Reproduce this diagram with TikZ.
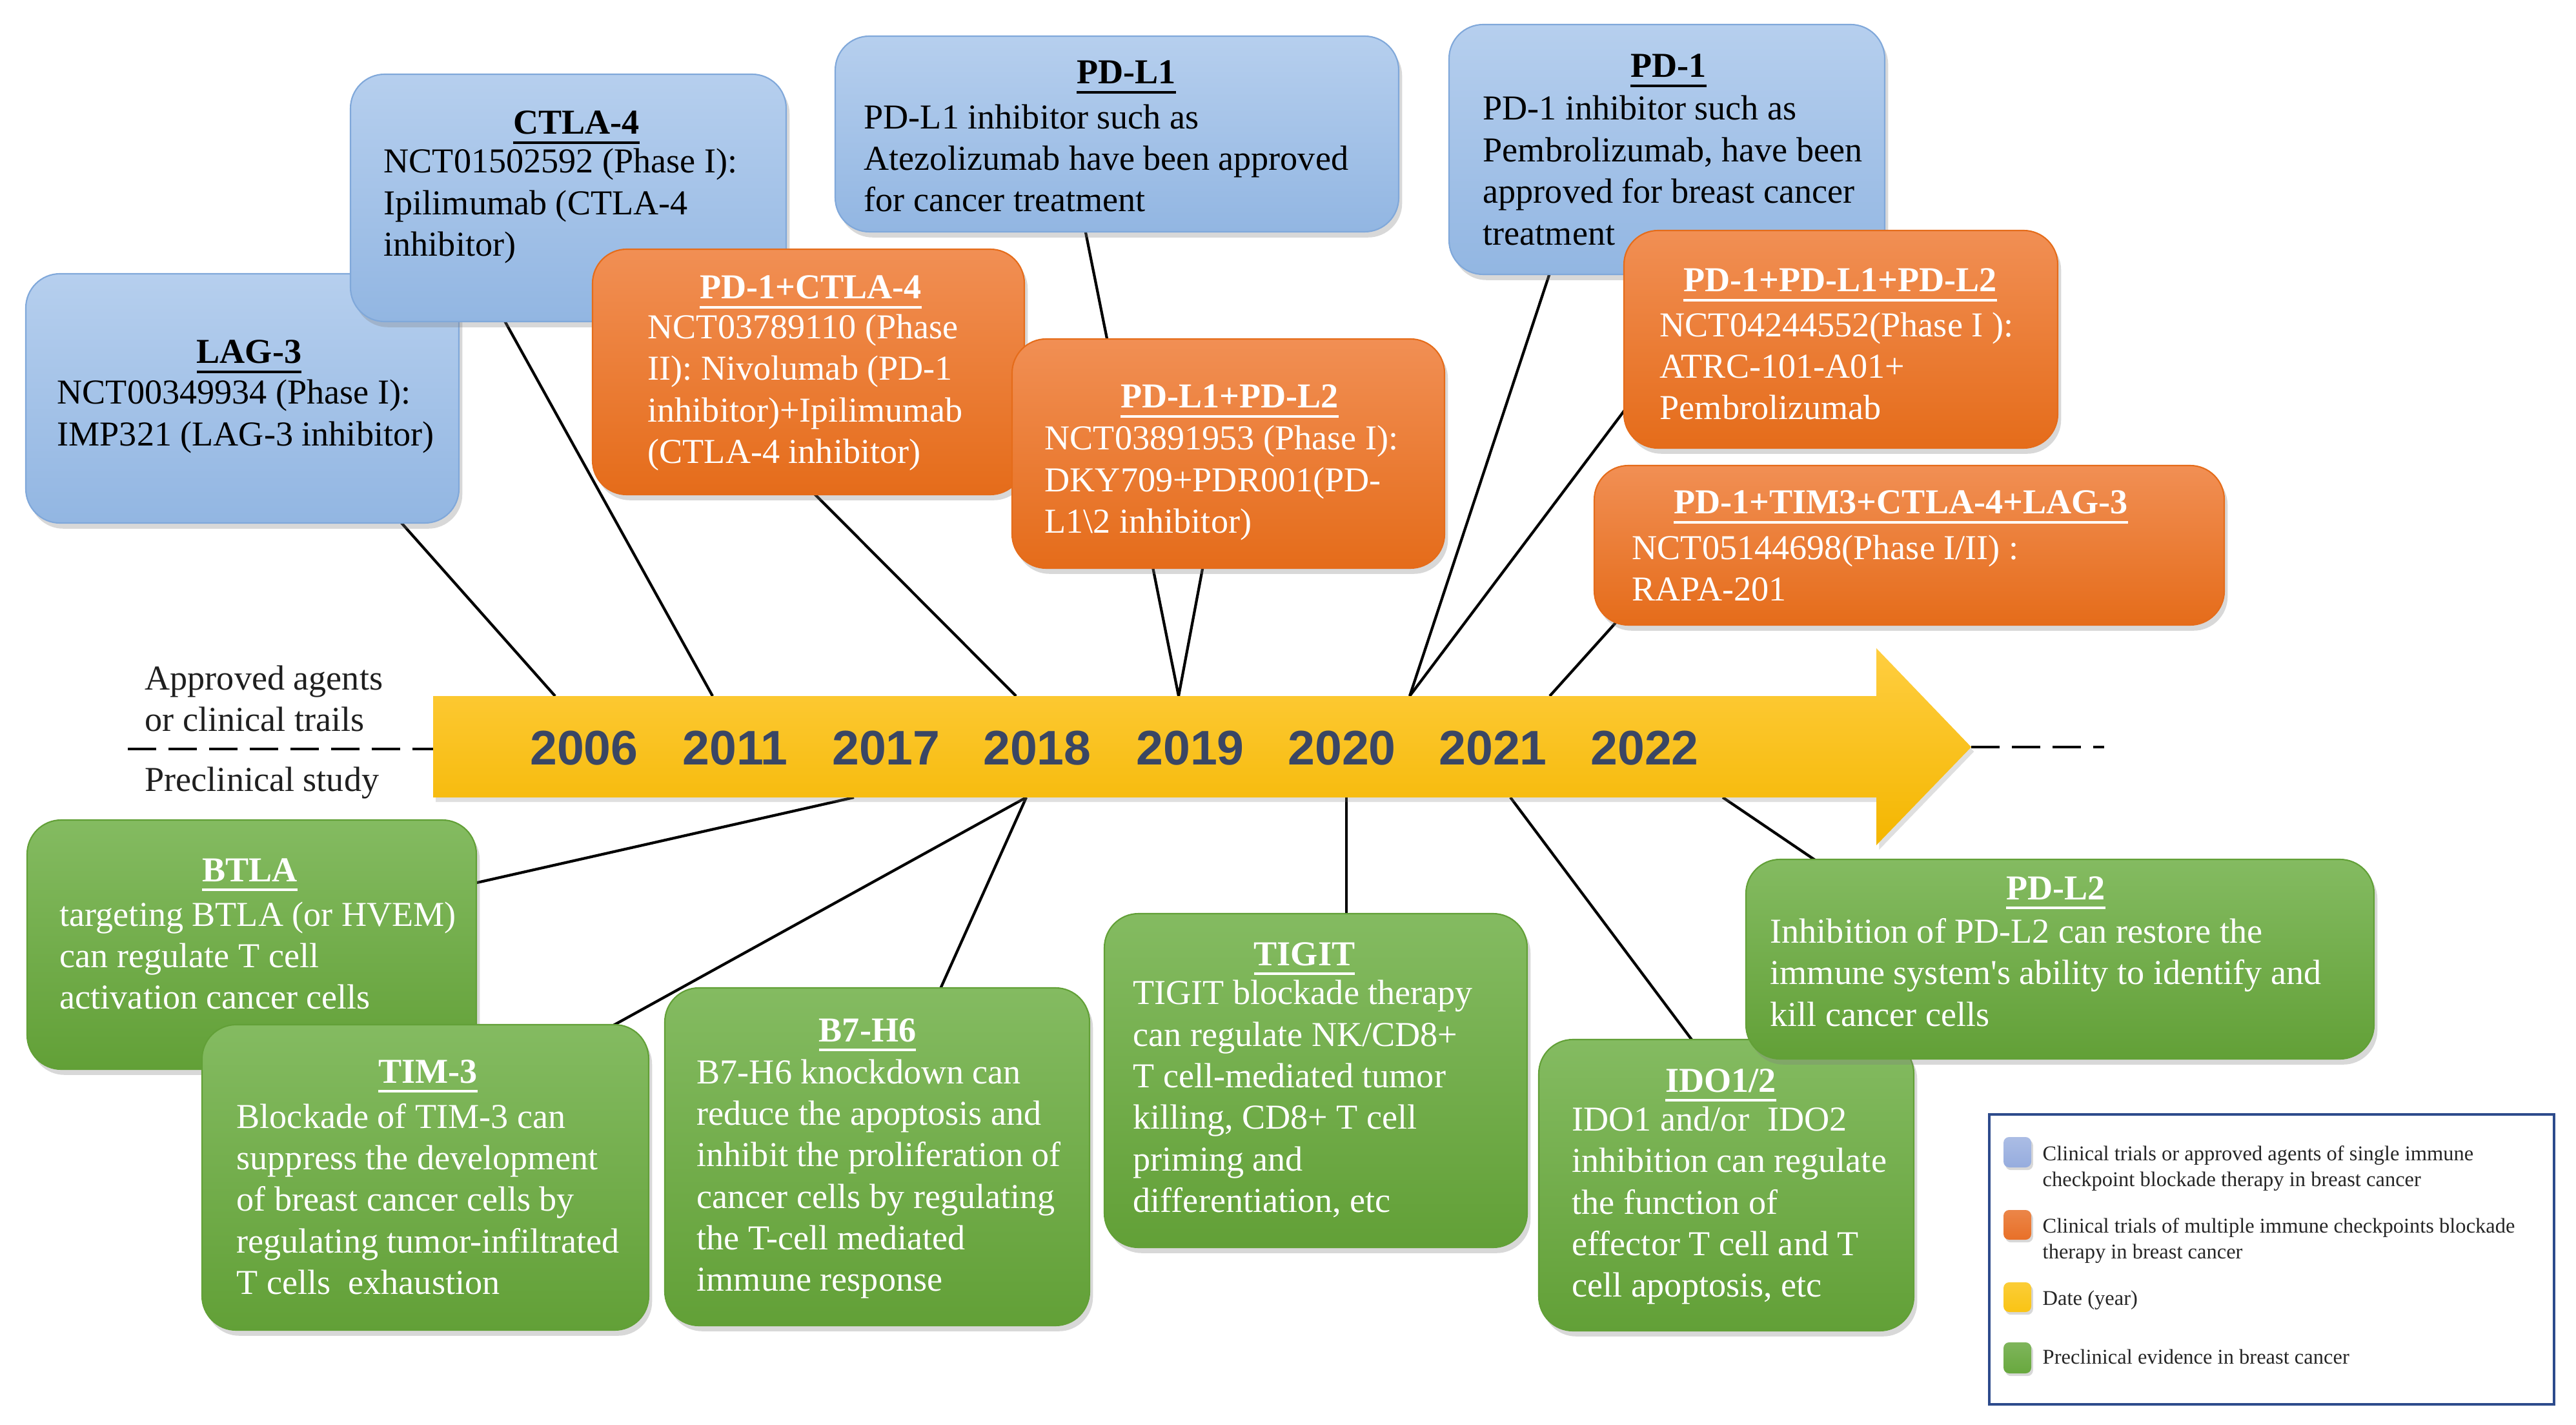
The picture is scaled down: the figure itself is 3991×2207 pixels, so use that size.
\documentclass[tikz,border=0pt]{standalone}
\usepackage{fontspec}
\setmainfont{Liberation Serif}
\newfontfamily\qfont{Liberation Serif}
\newfontfamily\yearfont{Liberation Sans}
\usetikzlibrary{shadows,fit,calc}
\pgfdeclarelayer{bg}
\pgfsetlayers{bg,main}
\definecolor{bluetop}{RGB}{182,207,238}
\definecolor{bluebot}{RGB}{146,182,226}
\definecolor{blueedge}{RGB}{128,168,218}
\definecolor{orgtop}{RGB}{241,143,84}
\definecolor{orgbot}{RGB}{229,108,26}
\definecolor{grntop}{RGB}{132,187,97}
\definecolor{grnbot}{RGB}{98,160,55}
\definecolor{yeartxt}{RGB}{58,70,100}
\definecolor{ylwtop}{RGB}{255,206,64}
\definecolor{ylwbot}{RGB}{244,182,0}
\definecolor{legedge}{RGB}{45,75,140}
\definecolor{swblue}{RGB}{150,172,222}
\definecolor{sworg}{RGB}{232,112,40}
\definecolor{swylw}{RGB}{250,196,20}
\definecolor{swgrn}{RGB}{104,168,62}
\newcommand\ttlu[1]{\setbox0\hbox{\bfseries #1}\rlap{\usebox0}\raisebox{-4.4pt}{\rule{\wd0}{1.4pt}}}
\newcommand\sq{{\qfont'}}
\tikzset{
  box/.style={rounded corners=15pt, inner sep=0pt, line width=0.6pt,
    drop shadow={opacity=0.3, shadow xshift=1.5pt, shadow yshift=-2.5pt}},
  bluebox/.style={box, draw=blueedge, top color=bluetop, bottom color=bluebot},
  orgbox/.style={box, draw=orgbot, top color=orgtop, bottom color=orgbot},
  grnbox/.style={box, draw=grnbot, top color=grntop, bottom color=grnbot},
  ttl/.style={anchor=base, inner sep=0pt, font=\fontsize{15.4}{18.3}\selectfont},
  body/.style={anchor=west, align=left, inner sep=0pt, font=\fontsize{15.4}{18.3}\selectfont},
  wtxt/.style={text=white},
  link/.style={line width=1.2pt, black},
  dashline/.style={line width=1.4pt, black, dash pattern=on 12.5pt off 5.4pt},
  year/.style={anchor=base, inner sep=0pt, text=yeartxt, font=\fontsize{21.4}{24}\selectfont\yearfont\bfseries},
  sidelab/.style={anchor=base west, inner sep=0pt, text=black!88, font=\fontsize{15.4}{18.3}\selectfont},
  legtxt/.style={anchor=base west, inner sep=0pt, text=black!85, font=\fontsize{9.25}{11.4}\selectfont},
  swatch/.style={rounded corners=2.5pt, inner sep=0pt, drop shadow={opacity=0.3, shadow xshift=0.8pt, shadow yshift=-1.2pt}},
  timeline/.style={top color=ylwtop, bottom color=ylwbot, drop shadow={opacity=0.25, shadow xshift=1.2pt, shadow yshift=-2pt}}
}
\begin{document}
\begin{tikzpicture}[x=0.01cm,y=-0.01cm]
\useasboundingbox (0,0) rectangle (3991,2207);
\begin{pgfonlayer}{bg}
\fill[white] (0,0) rectangle (3991,2207);
\end{pgfonlayer}

% timeline arrow
\path[timeline] (671,1078) -- (2907,1078) -- (2907,1004) -- (3054,1157) -- (2907,1309) -- (2907,1235) -- (671,1235) -- cycle;
\coordinate (barL) at (671,1160);
\coordinate (dashL) at (198,1160);
\coordinate (tip) at (3054,1157);
\coordinate (dashR) at (3260,1157);
\draw[dashline] (dashL) -- (barL);
\draw[dashline] (tip) -- (dashR);

% years
\node[year] (y2006) at (905,1184) {2006};
\node[year] (y2011) at (1139,1184) {2011};
\node[year] (y2017) at (1373,1184) {2017};
\node[year] (y2018) at (1607,1184) {2018};
\node[year] (y2019) at (1844,1184) {2019};
\node[year] (y2020) at (2079,1184) {2020};
\node[year] (y2021) at (2313,1184) {2021};
\node[year] (y2022) at (2548,1184) {2022};

% side labels
\node[sidelab] (lab1) at (224,1068) {Approved agents};
\node[sidelab] (lab2) at (224,1132) {or clinical trails};
\node[sidelab] (lab3) at (224,1225) {Preclinical study};

% timeline points
\coordinate (tLag) at (860,1078);
\coordinate (tCtla) at (1104,1078);
\coordinate (tPdctla) at (1574,1078);
\coordinate (tPdl) at (1826,1078);
\coordinate (tPd1) at (2184,1078);
\coordinate (tPd4) at (2401,1078);
\coordinate (bBtla) at (1323,1235);
\coordinate (bTim) at (1590,1235);
\coordinate (bTig) at (2086,1235);
\coordinate (bIdo) at (2340,1235);
\coordinate (bPdl2) at (2669,1235);

% ---- blue / orange boxes ----
\node[bluebox, fit={(40,424)(711,810)}] (lag) {};
\node[ttl] (lagH) at (386,563) {\ttlu{LAG-3}};
\node[body] (lagB) at (88,645) {NCT00349934 (Phase I):\\IMP321 (LAG-3 inhibitor)};

\node[bluebox, fit={(543,115)(1218,498)}] (ctla) {};
\node[ttl] (ctlaH) at (893,208) {\ttlu{CTLA-4}};
\node[body] (ctlaB) at (594,319) {NCT01502592 (Phase I):\\Ipilimumab (CTLA-4\\inhibitor)};

\node[orgbox, fit={(918,386)(1587,766)}] (pdctla) {};
\node[ttl, wtxt] (pdctlaH) at (1256,463) {\ttlu{PD-1+CTLA-4}};
\node[body, wtxt] (pdctlaB) at (1003,608) {NCT03789110 (Phase\\II): Nivolumab (PD-1\\inhibitor)+Ipilimumab\\(CTLA-4 inhibitor)};

\node[bluebox, fit={(1294,56)(2167,359)}] (pdl1) {};
\node[ttl] (pdl1H) at (1745,130) {\ttlu{PD-L1}};
\node[body] (pdl1B) at (1338,245) {PD-L1 inhibitor such as\\Atezolizumab have been approved\\for cancer treatment};

\node[orgbox, fit={(1568,525)(2238,880)}] (pdl12) {};
\node[ttl, wtxt] (pdl12H) at (1905,632) {\ttlu{PD-L1+PD-L2}};
\node[body, wtxt] (pdl12B) at (1618,748) {NCT03891953 (Phase I):\\DKY709+PDR001(PD-\\L1\textbackslash2 inhibitor)};

\node[bluebox, fit={(2245,38)(2920,425)}] (pd1) {};
\node[ttl] (pd1H) at (2585,120) {\ttlu{PD-1}};
\node[body] (pd1B) at (2297,264) {PD-1 inhibitor such as\\Pembrolizumab, have been\\approved for breast cancer\\treatment};

\node[orgbox, fit={(2516,357)(3188,694)}] (pd3) {};
\node[ttl, wtxt] (pd3H) at (2851,452) {\ttlu{PD-1+PD-L1+PD-L2}};
\node[body, wtxt] (pd3B) at (2571,567) {NCT04244552(Phase I ):\\ATRC-101-A01+\\Pembrolizumab};

\node[orgbox, fit={(2470,721)(3446,968)}] (pd4) {};
\node[ttl, wtxt] (pd4H) at (2945,796) {\ttlu{PD-1+TIM3+CTLA-4+LAG-3}};
\node[body, wtxt] (pd4B) at (2528,880) {NCT05144698(Phase I/II) :\\RAPA-201};

% ---- green boxes ----
\node[grnbox, fit={(42,1270)(738,1656)}] (btla) {};
\node[ttl, wtxt] (btlaH) at (387,1365) {\ttlu{BTLA}};
\node[body, wtxt] (btlaB) at (92,1480) {targeting BTLA (or HVEM)\\can regulate T cell\\activation cancer cells};

\node[grnbox, fit={(313,1587)(1005,2060)}] (tim3) {};
\node[ttl, wtxt] (tim3H) at (663,1677) {\ttlu{TIM-3}};
\node[body, wtxt] (tim3B) at (366,1857) {Blockade of TIM-3 can\\suppress the development\\of breast cancer cells by\\regulating tumor-infiltrated\\T cells\ \ exhaustion};

\node[grnbox, fit={(1030,1530)(1688,2053)}] (b7h6) {};
\node[ttl, wtxt] (b7h6H) at (1344,1613) {\ttlu{B7-H6}};
\node[body, wtxt] (b7h6B) at (1079,1826) {B7-H6 knockdown can\\reduce the apoptosis and\\inhibit the proliferation of\\cancer cells by regulating\\the T-cell mediated\\immune response};

\node[grnbox, fit={(1711,1415)(2366,1932)}] (tigit) {};
\node[ttl, wtxt] (tigitH) at (2021,1495) {\ttlu{TIGIT}};
\node[body, wtxt] (tigitB) at (1755,1702) {TIGIT blockade therapy\\can regulate NK/CD8+\\T cell-mediated tumor\\killing, CD8+ T cell\\priming and\\differentiation, etc};

\node[grnbox, fit={(2384,1610)(2965,2061)}] (ido) {};
\node[ttl, wtxt] (idoH) at (2666,1691) {\ttlu{IDO1/2}};
\node[body, wtxt] (idoB) at (2435,1867) {IDO1 and/or\ \ IDO2\\inhibition can regulate\\the function of\\effector T cell and T\\cell apoptosis, etc};

\node[grnbox, fit={(2705,1331)(3678,1640)}] (pdl2) {};
\node[ttl, wtxt] (pdl2H) at (3185,1393) {\ttlu{PD-L2}};
\node[body, wtxt] (pdl2B) at (2742,1506) {Inhibition of PD-L2 can restore the\\immune system\sq s ability to identify and\\kill cancer cells};

% ---- legend ----
\node[draw=legedge, line width=1.1pt, fill=white, inner sep=0pt, fit={(3082,1726)(3957,2175)}] (legend) {};
\node[swatch, top color=swblue!80!white, bottom color=swblue, fit={(3104,1761)(3147,1808)}] (swB) {};
\node[swatch, top color=sworg!85!white, bottom color=sworg, fit={(3104,1874)(3147,1920)}] (swO) {};
\node[swatch, top color=swylw!85!white, bottom color=swylw, fit={(3104,1986)(3147,2032)}] (swY) {};
\node[swatch, top color=swgrn!85!white, bottom color=swgrn, fit={(3104,2079)(3147,2127)}] (swG) {};
\node[legtxt] (leg1a) at (3164,1797) {Clinical trials or approved agents of single immune};
\node[legtxt] (leg1b) at (3164,1837) {checkpoint blockade therapy in breast cancer};
\node[legtxt] (leg2a) at (3164,1909) {Clinical trials of multiple immune checkpoints blockade};
\node[legtxt] (leg2b) at (3164,1949) {therapy in breast cancer};
\node[legtxt] (leg3) at (3164,2021) {Date (year)};
\node[legtxt] (leg4) at (3164,2112) {Preclinical evidence in breast cancer};

% ---- connectors (behind boxes) ----
\coordinate (lagP) at ($(lag.south)+(247.5,0)$);
\coordinate (ctlaP) at ($(ctla.south)+(-97.5,0)$);
\coordinate (pdctlaP) at ($(pdctla.south)+(11.5,0)$);
\coordinate (pdl1P) at ($(pdl1.south)+(-48.5,0)$);
\coordinate (pdl12P) at ($(pdl12.south)+(-40,0)$);
\coordinate (pd1P) at ($(pd1.south)+(-182.5,0)$);
\coordinate (pd3P) at ($(pd3.west)+(0,112.5)$);
\coordinate (pd4P) at ($(pd4.south)+(-459,0)$);
\coordinate (btlaP) at ($(btla.east)+(0,-96)$);
\coordinate (tim3P) at ($(tim3.north)+(295,0)$);
\coordinate (b7h6P) at ($(b7h6.north)+(99,0)$);
\coordinate (tigitP) at ($(tigit.north)+(47.5,0)$);
\coordinate (idoP) at ($(ido.north)+(-54.5,0)$);
\coordinate (pdl2P) at ($(pdl2.north)+(-382.5,0)$);
\begin{pgfonlayer}{bg}
\draw[link] ($(lagP)!-8pt!(tLag)$) -- (tLag);
\draw[link] ($(ctlaP)!-8pt!(tCtla)$) -- (tCtla);
\draw[link] ($(pdctlaP)!-8pt!(tPdctla)$) -- (tPdctla);
\draw[link] ($(pdl1P)!-8pt!(tPdl)$) -- (tPdl);
\draw[link] ($(pdl12P)!-8pt!(tPdl)$) -- (tPdl);
\draw[link] ($(pd1P)!-8pt!(tPd1)$) -- (tPd1);
\draw[link] ($(pd3P)!-8pt!(tPd1)$) -- (tPd1);
\draw[link] ($(pd4P)!-8pt!(tPd4)$) -- (tPd4);
\draw[link] ($(btlaP)!-8pt!(bBtla)$) -- (bBtla);
\draw[link] ($(tim3P)!-8pt!(bTim)$) -- (bTim);
\draw[link] ($(b7h6P)!-8pt!(bTim)$) -- (bTim);
\draw[link] ($(tigitP)!-8pt!(bTig)$) -- (bTig);
\draw[link] ($(idoP)!-8pt!(bIdo)$) -- (bIdo);
\draw[link] ($(pdl2P)!-8pt!(bPdl2)$) -- (bPdl2);
\end{pgfonlayer}
\end{tikzpicture}
\end{document}
